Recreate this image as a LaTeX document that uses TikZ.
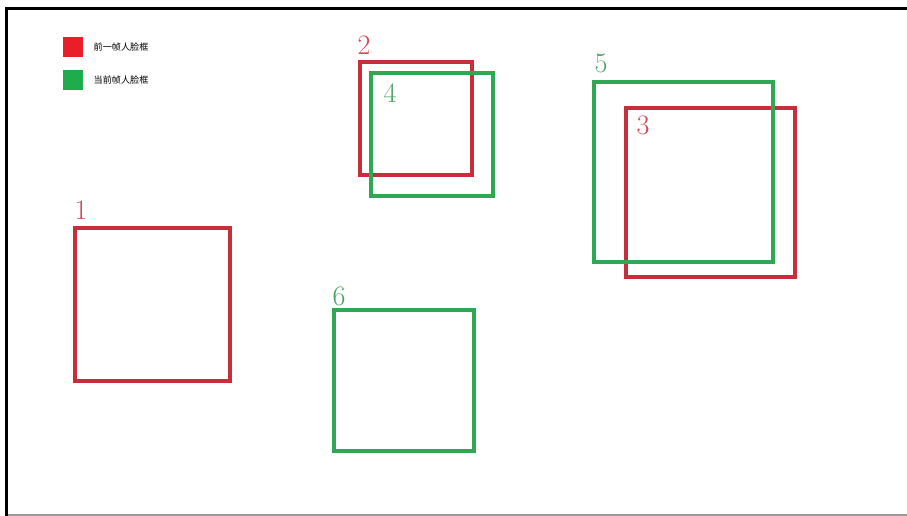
\documentclass[tikz,border=0pt]{standalone}
\usepackage{fontspec}
\usepackage{xcolor}
\usepackage{tikz}
\usetikzlibrary{positioning}
\newfontfamily\cjk{Noto Sans CJK SC}
\definecolor{boxred}{RGB}{200,46,58}
\definecolor{boxgreen}{RGB}{46,168,82}
\definecolor{numred}{RGB}{208,72,86}
\definecolor{numgreen}{RGB}{72,162,102}
\definecolor{keyred}{RGB}{234,30,40}
\definecolor{keygreen}{RGB}{32,172,76}

\begin{document}
\begin{tikzpicture}[x=0.02cm, y=-0.02cm,
  prevbox/.style={draw=boxred, line width=0.075cm, inner sep=0pt, outer sep=0pt},
  curbox/.style={draw=boxgreen, line width=0.075cm, inner sep=0pt, outer sep=0pt},
  numlbl/.style={inner sep=0pt, font=\fontsize{16}{16}\selectfont},
  keysq/.style={minimum width=0.4cm, minimum height=0.4cm, inner sep=0pt},
  keytxt/.style={inner sep=0pt, anchor=west, font=\cjk\fontsize{5.2}{6}\selectfont}
]
  \useasboundingbox[fill=white] (0,0) rectangle (907,516);
  % frame
  \draw[line width=0.06cm] (6.5,516) -- (6.5,8.5) -- (907,8.5);
  \draw[black!40, line width=0.04cm] (8,515) -- (907,515);
  % legend
  \node[keysq, fill=keyred] (kprev) at (73,47) {};
  \node[keytxt, right=0.2cm of kprev] (tprev) {前一帧人脸框};
  \node[keysq, fill=keygreen] (kcur) at (73,80) {};
  \node[keytxt, right=0.2cm of kcur] (tcur) {当前帧人脸框};
  % boxes
  \node[prevbox, minimum width=3.1cm, minimum height=3.06cm] (f1) at (152.5,304.5) {};
  \node[prevbox, minimum width=2.24cm, minimum height=2.26cm] (f2) at (416,118.5) {};
  \node[prevbox, minimum width=3.38cm, minimum height=3.38cm] (f3) at (710.5,192.5) {};
  \node[curbox, minimum width=2.44cm, minimum height=2.46cm] (f4) at (432,134.5) {};
  \node[curbox, minimum width=3.58cm, minimum height=3.6cm] (f5) at (683.5,172) {};
  \node[curbox, minimum width=2.8cm, minimum height=2.82cm] (f6) at (404,380.5) {};
  % labels
  \node[numlbl, text=numred] (n1) at (81,210) {1};
  \node[numlbl, text=numred] (n2) at (364,45) {2};
  \node[numlbl, text=numred] (n3) at (643,125) {3};
  \node[numlbl, text=numgreen] (n4) at (390,93) {4};
  \node[numlbl, text=numgreen] (n5) at (601,63) {5};
  \node[numlbl, text=numgreen] (n6) at (339,296) {6};
\end{tikzpicture}
\end{document}
